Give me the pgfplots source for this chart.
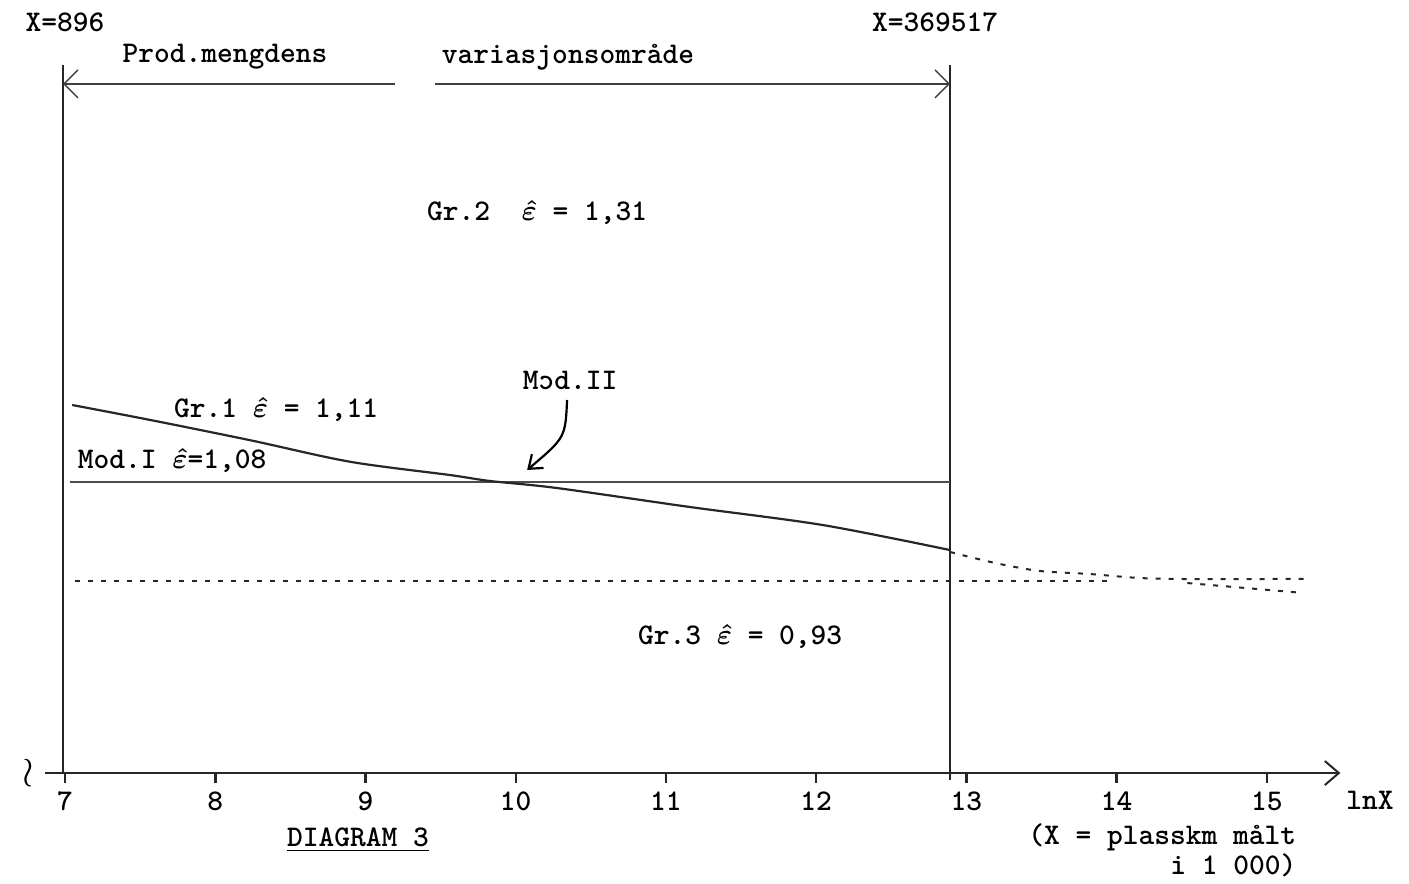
\documentclass[border=0pt]{standalone}
\usepackage{pgfplots}
\pgfplotsset{compat=1.18}
\usetikzlibrary{arrows.meta}
\usepackage{graphicx}
\newcommand{\tw}{\fontsize{15}{18}\selectfont\ttfamily\bfseries}
\newcommand{\eh}{$\boldsymbol{\hat{\varepsilon}}$}
\usepackage{amsmath}
\begin{document}
\begin{tikzpicture}
\begin{axis}[
  x=75.1pt, y=316.65pt,
  xmin=6.867, xmax=15.49, ymin=0.6205, ymax=1.8411,
  axis x line=bottom, axis y line=none,
  x axis line style={-{Straight Barb[length=7pt,width=12pt]}, line width=1pt, black!85},
  xtick={7,...,15}, xticklabels={7,8,9,10,11,12,13,14,15},
  xticklabel style={font=\tw, yshift=-1pt},
  major tick length=5pt, tick align=outside, tick style={line width=1.2pt, black!85},
  ytick=\empty,
  clip=false,
]
\path (axis cs:6.5666,0.4500) rectangle (axis cs:15.947,1.8411);
% vertical limits
\addplot[line width=1pt, black!85] coordinates {(6.986,0.6205)(6.986,1.7385)};
\addplot[line width=1pt, black!85] coordinates {(12.891,0.61)(12.891,1.7385)};
% top range arrows
\addplot[line width=0.7pt, black!75, {Straight Barb[length=7pt,width=14pt]}-] coordinates {(6.986,1.7085)(9.197,1.7085)};
\addplot[line width=0.7pt, black!75, -{Straight Barb[length=7pt,width=14pt]}] coordinates {(9.464,1.7085)(12.891,1.7085)};
% Mod.I
\addplot[line width=0.8pt, black!70] coordinates {(7.033,1.08)(12.891,1.08)};
% Mod.II solid
\addplot[line width=1.1pt, black!85, smooth] coordinates {(7.047,1.2016)(7.566,1.178)(8.232,1.146)(8.897,1.112)(9.563,1.091)(9.829,1.0816)(10.275,1.0705)(11.161,1.0405)(12.046,1.012)(12.891,0.9726)};
% Mod.II dotted extension
\addplot[line width=1pt, black!85, smooth, dash pattern=on 2.5pt off 4pt] coordinates {(12.891,0.9695)(13.024,0.9616)(13.224,0.9505)(13.490,0.9395)(13.823,0.9347)(14.156,0.9284)(14.489,0.9268)(15.268,0.927)};
% Gr.3
\addplot[line width=1pt, black!85, dash pattern=on 2.5pt off 4pt] coordinates {(7.067,0.924)(13.96,0.924)};
\addplot[line width=1pt, black!85, dash pattern=on 2.5pt off 4pt] coordinates {(14.471,0.9205)(15.237,0.905)};
% arrow Mod.II
\draw[line width=1.1pt, -{Straight Barb[length=6pt,width=9pt]}] (axis cs:10.342,1.2095) .. controls (axis cs:10.33,1.15) .. (axis cs:10.076,1.099);
% labels
\node[font=\tw] at (axis cs:7.0,1.8063) {X=896};
\node[font=\tw] at (axis cs:12.792,1.8063) {X=369517};
\node[font=\tw] at (axis cs:8.065,1.751) {Prod.mengdens};
\node[font=\tw] at (axis cs:10.348,1.751) {variasjonsområde};
\node[font=\tw] at (axis cs:10.142,1.506) {Gr.2\ \ \eh{} = 1,31};
\node[font=\tw] at (axis cs:10.362,1.241) {M\reflectbox{c}d.II};
\node[font=\tw] at (axis cs:8.405,1.1937) {Gr.1 \eh{} = 1,11};
\node[font=\tw] at (axis cs:7.713,1.1147) {Mod.I \eh{}=1,08};
\node[font=\tw] at (axis cs:11.494,0.8353) {Gr.3 \eh{} = 0,93};
\node[font=\tw] at (axis cs:15.688,0.5779) {lnX};
\node[font=\tw] at (axis cs:8.95,0.5147) {\underline{DIAGRAM 3}};
\node[font=\tw, align=right] at (axis cs:14.305,0.4989) {(X = plasskm målt\\[-3pt] i 1 000)};
\node[font=\fontsize{22}{22}\selectfont] at (axis cs:6.753,0.6205) {$\wr$};
\end{axis}
\end{tikzpicture}
\end{document}
